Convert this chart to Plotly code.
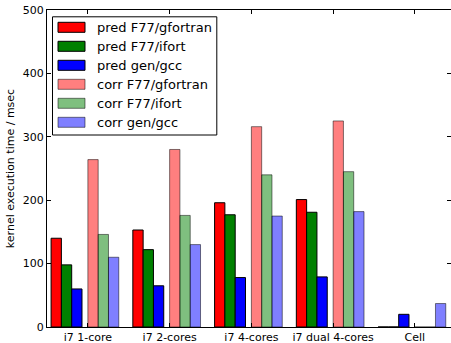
import plotly.graph_objects as go

# Kernel execution times (msec) per platform
categories = ["i7 1-core", "i7 2-cores", "i7 4-cores", "i7 dual 4-cores", "Cell"]
pred_f77_gfortran = [140, 153, 196, 201, 0]
pred_f77_ifort = [98, 122, 177, 181, 0]
pred_gen_gcc = [60, 65, 78, 79, 20]
corr_f77_gfortran = [264, 280, 316, 325, 0]
corr_f77_ifort = [146, 176, 240, 245, 0]
corr_gen_gcc = [110, 130, 175, 182, 37]
y_ticks = [0, 100, 200, 300, 400, 500]

W, H = 451, 343
ML, MR, MT, MB = 47, 0, 10, 16
PW, PH = W - ML - MR, H - MT - MB

BAR_W = 0.126
series = [
    ("pred F77/gfortran", pred_f77_gfortran, -0.45, "rgb(255,0,0)", "black"),
    ("pred F77/ifort", pred_f77_ifort, -0.45 + BAR_W, "rgb(0,128,0)", "black"),
    ("pred gen/gcc", pred_gen_gcc, -0.45 + 2 * BAR_W, "rgb(0,0,255)", "black"),
    ("corr F77/gfortran", corr_f77_gfortran, 0.0, "rgba(255,0,0,0.5)", "rgba(0,0,0,0.5)"),
    ("corr F77/ifort", corr_f77_ifort, BAR_W, "rgba(0,128,0,0.5)", "rgba(0,0,0,0.5)"),
    ("corr gen/gcc", corr_gen_gcc, 2 * BAR_W, "rgba(0,0,255,0.5)", "rgba(0,0,0,0.5)"),
]

fig = go.Figure()
for name, vals, off, fill, edge in series:
    fig.add_trace(go.Bar(
        x=[i + off for i in range(len(categories))],
        y=vals,
        width=BAR_W,
        offset=0,
        name=name,
        marker=dict(color=fill, line=dict(color=edge, width=1)),
        showlegend=False,
    ))

# Hand-built legend box (wide patches, large text)
def px_x(p):
    return (p - ML) / PW

def px_y(p):
    return 1 - (p - MT) / PH

shapes = [dict(type="rect", xref="paper", yref="paper",
               x0=px_x(52.5), x1=px_x(216.8), y0=px_y(135), y1=px_y(16.8),
               line=dict(color="black", width=1), fillcolor="white", layer="above")]
annotations = []
for k, (name, vals, off, fill, edge) in enumerate(series):
    cy = 27.3 + 19 * k
    shapes.append(dict(type="rect", xref="paper", yref="paper",
                       x0=px_x(58), x1=px_x(85), y0=px_y(cy + 5), y1=px_y(cy - 5),
                       line=dict(color=edge, width=1), fillcolor=fill, layer="above"))
    annotations.append(dict(xref="paper", yref="paper", x=px_x(95), y=px_y(cy),
                            xanchor="left", yanchor="middle", showarrow=False,
                            text=name, font=dict(size=13, color="black")))

fig.update_layout(
    width=W, height=H,
    margin=dict(l=ML, r=MR, t=MT, b=MB, pad=0),
    template="none",
    paper_bgcolor="white", plot_bgcolor="white",
    barmode="overlay",
    font=dict(family="DejaVu Sans", size=11, color="black"),
    shapes=shapes,
    annotations=annotations,
    showlegend=False,
)
fig.update_xaxes(
    range=[-0.5, -0.5 + PW / 81.75],
    tickvals=list(range(len(categories))), ticktext=categories,
    ticks="inside", ticklen=4, tickcolor="black",
    showline=True, linecolor="black", linewidth=1, mirror="ticks",
    showgrid=False, zeroline=False, automargin=False,
    tickfont=dict(size=11),
)
fig.update_yaxes(
    range=[0, 500], tickvals=y_ticks,
    ticks="inside", ticklen=4, tickcolor="black",
    showline=True, linecolor="black", linewidth=1, mirror="ticks",
    showgrid=False, zeroline=False, automargin=False,
    tickfont=dict(size=11),
    title=dict(text="kernel execution time / msec", font=dict(size=11), standoff=5),
)

fig.write_html("out.html")
